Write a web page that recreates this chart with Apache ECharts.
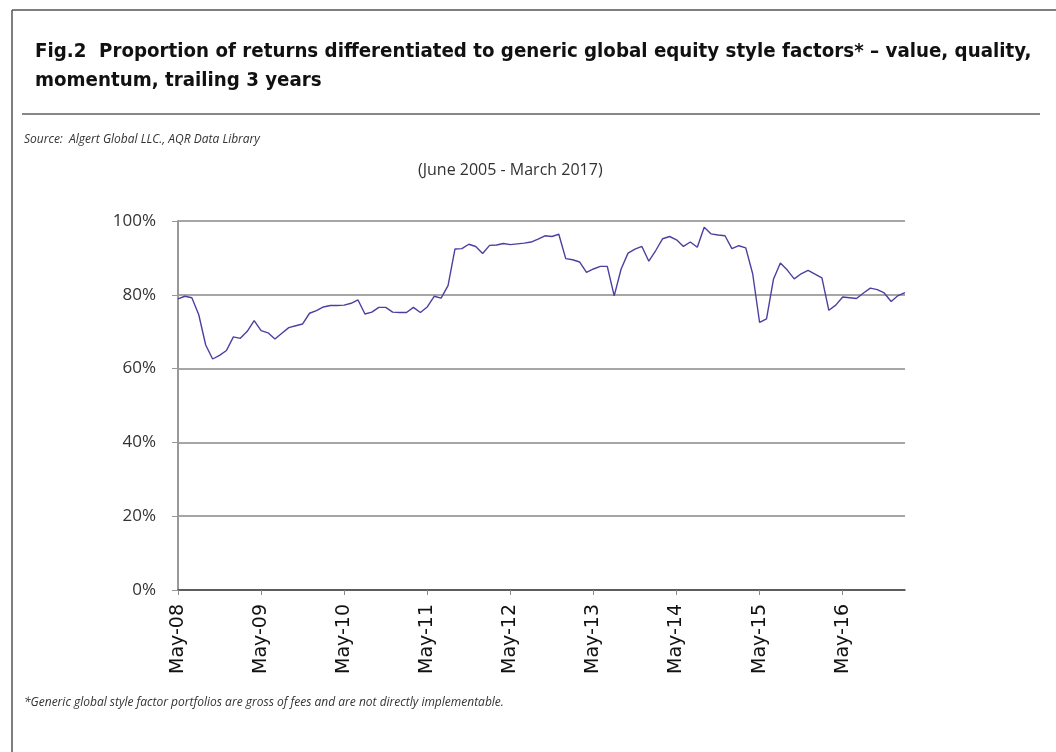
<!DOCTYPE html>
<html>
<head>
<meta charset="utf-8">
<script src="https://cdn.jsdelivr.net/npm/echarts@6/dist/echarts.min.js"></script>
<style>
  html, body { margin:0; padding:0; background:#fff; }
  #chart { width:1056px; height:752px; }
</style>
</head>
<body>
<div id="chart"></div>
<script>
// monthly series, May-08 .. Feb-17
var startYear = 2008, startMonth = 4; // May (0-based)
var monthNames = ['Jan','Feb','Mar','Apr','May','Jun','Jul','Aug','Sep','Oct','Nov','Dec'];
var values = [
  78.9,79.6,79.2,74.6,66.4,62.6,63.6,64.9,68.6,68.2,70.1,73.0,
  70.3,69.7,68.0,69.6,71.1,71.6,72.1,75.0,75.7,76.7,77.1,77.1,
  77.2,77.7,78.6,74.8,75.3,76.6,76.6,75.3,75.2,75.2,76.6,75.2,
  76.7,79.6,79.1,82.5,92.4,92.5,93.7,93.1,91.2,93.4,93.5,93.9,
  93.6,93.8,94.0,94.3,95.1,96.0,95.8,96.4,89.8,89.5,88.9,86.1,
  87.0,87.7,87.7,79.7,87.0,91.3,92.4,93.1,89.1,92.0,95.2,95.8,
  94.9,93.1,94.3,92.9,98.3,96.5,96.2,96.0,92.5,93.3,92.7,85.7,
  72.5,73.5,84.2,88.6,86.7,84.3,85.7,86.6,85.6,84.6,75.8,77.2,
  79.4,79.2,79.0,80.5,81.8,81.4,80.5,78.2,79.8,80.6
];
var categories = [];
for (var k = 0; k < values.length; k++) {
  var m = (startMonth + k) % 12;
  var y = startYear + Math.floor((startMonth + k) / 12);
  categories.push(monthNames[m] + '-' + String(y % 100).padStart(2, '0'));
}

var titleLine1 = 'Fig.2  Proportion of returns differentiated to generic global equity style factors* \u2013 value, quality,';
var titleLine2 = 'momentum, trailing 3 years';
var sourceText = 'Source:  Algert Global LLC., AQR Data Library';
var subTitle = '(June 2005 - March 2017)';
var footnote = '*Generic global style factor portfolios are gross of fees and are not directly implementable.';

var titleFont = 'bold 20.3px "Liberation Sans Narrow", "DejaVu Sans Condensed", sans-serif';

var myChart = echarts.init(document.getElementById('chart'));
myChart.setOption({
  animation: false,
  grid: { left: 178, right: 151, top: 221, bottom: 162 },
  graphic: [
    { type: 'line', shape: { x1: 12, y1: 10, x2: 1056, y2: 10 }, style: { stroke: '#555', lineWidth: 1.5 } },
    { type: 'line', shape: { x1: 12, y1: 10, x2: 12, y2: 752 }, style: { stroke: '#555', lineWidth: 1.5 } },
    { type: 'line', shape: { x1: 22, y1: 114, x2: 1040, y2: 114 }, style: { stroke: '#111', lineWidth: 1 } },
    { type: 'text', left: 35, top: 42, style: { text: titleLine1, font: titleFont, fill: '#111' } },
    { type: 'text', left: 35, top: 71, style: { text: titleLine2, font: titleFont, fill: '#111' } },
    { type: 'text', left: 24, top: 134, style: { text: sourceText, font: 'italic 12px "Open Sans", sans-serif', fill: '#333' } },
    { type: 'text', left: 418, top: 162, style: { text: subTitle, font: '16px "Open Sans", sans-serif', fill: '#333' } },
    { type: 'text', left: 24, top: 697, style: { text: footnote, font: 'italic 12px "Open Sans", sans-serif', fill: '#333' } }
  ],
  xAxis: {
    type: 'category',
    data: categories,
    boundaryGap: false,
    axisLine: { lineStyle: { color: '#444', width: 1.5 } },
    axisTick: { interval: 11, length: 5, lineStyle: { color: '#888' } },
    axisLabel: {
      interval: 11,
      rotate: 90,
      margin: 14,
      fontFamily: 'DejaVu Sans',
      fontSize: 19,
      color: '#111'
    },
    splitLine: { show: false }
  },
  yAxis: {
    type: 'value',
    min: 0,
    max: 100,
    interval: 20,
    axisLine: { show: true, lineStyle: { color: '#999', width: 2 } },
    axisTick: { show: true, length: 6, lineStyle: { color: '#999' } },
    axisLabel: {
      formatter: '{value}%',
      margin: 22,
      fontFamily: '"Open Sans", sans-serif',
      fontSize: 17,
      color: '#333'
    },
    splitLine: { lineStyle: { color: '#888', width: 1.5 } }
  },
  series: [
    {
      type: 'line',
      data: values,
      symbol: 'none',
      lineStyle: { color: '#4b40a0', width: 1.4 },
      itemStyle: { color: '#4b40a0' }
    }
  ]
});
</script>
</body>
</html>
